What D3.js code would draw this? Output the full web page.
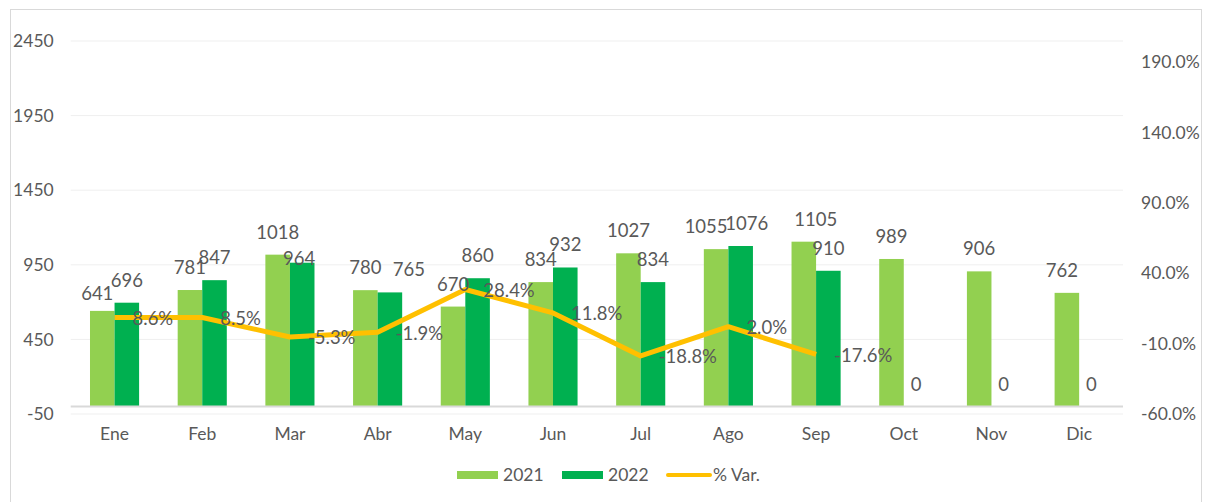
<!DOCTYPE html>
<html>
<head>
<meta charset="utf-8">
<script src="https://cdn.jsdelivr.net/npm/d3@7"></script>
<style>
  html, body { margin: 0; padding: 0; background: #fff; }
  svg { display: block; font-family: Lato, "Open Sans", sans-serif; }
</style>
</head>
<body>
<svg id="chart" width="1207" height="502"></svg>
<script>
// ---- data ----
const months = ["Ene","Feb","Mar","Abr","May","Jun","Jul","Ago","Sep","Oct","Nov","Dic"];
const values2021 = [641, 781, 1018, 780, 670, 834, 1027, 1055, 1105, 989, 906, 762];
const values2022 = [696, 847, 964, 765, 860, 932, 834, 1076, 910, 0, 0, 0];
const pctVar = [0.086, 0.085, -0.053, -0.019, 0.284, 0.118, -0.188, 0.020, -0.176];
const leftTicks = [-50, 450, 950, 1450, 1950, 2450];
const rightTicks = [-0.6, -0.1, 0.4, 0.9, 1.4, 1.9];
const seriesNames = ["2021", "2022", "% Var."];

// ---- layout / style ----
const colors = {"2021": "#92D050", "2022": "#00B050", line: "#FFC000"};
const textColor = "#595959";
const plot = {left: 70.7, right: 1123, top: 41, bottom: 414};
const axisFont = "17.5px";
const labelFont = "18.5px";

const locale = d3.formatLocale({decimal: ".", thousands: ",", grouping: [3], currency: ["$", ""], minus: "-"});
const fmtInt = locale.format("d");
const fmtPct = locale.format(".1%");

const svg = d3.select("#chart");

// chart border
svg.append("rect")
  .attr("x", 10.5).attr("y", 9.5)
  .attr("width", 1191).attr("height", 560)
  .attr("fill", "none").attr("stroke", "#d9d9d9").attr("stroke-width", 1);

const x0 = d3.scaleBand().domain(months).range([plot.left, plot.right]).padding(0);
const bw = x0.bandwidth();
const barW = bw * 0.28;
const x1 = d3.scaleBand().domain(["2021", "2022"]).range([bw / 2 - barW, bw / 2 + barW]).padding(0);

const y = d3.scaleLinear().domain([-50, 2450]).range([plot.bottom, plot.top]);
const yR = d3.scaleLinear().domain([-0.6, 1.9]).range([414, 62]);

// gridlines
svg.append("g").selectAll("line").data(leftTicks).join("line")
  .attr("x1", plot.left).attr("x2", plot.right)
  .attr("y1", d => y(d)).attr("y2", d => y(d))
  .attr("stroke", "#efefef").attr("stroke-width", 1);

// left axis
const gL = svg.append("g").attr("transform", `translate(${plot.left},0)`)
  .call(d3.axisLeft(y).tickValues(leftTicks).tickSize(0).tickPadding(17).tickFormat(fmtInt));
gL.select(".domain").remove();
gL.selectAll("text").attr("fill", textColor).style("font-size", axisFont).style("font-family", "Lato, sans-serif");

// right axis
const gR = svg.append("g").attr("transform", `translate(${plot.right},0)`)
  .call(d3.axisRight(yR).tickValues(rightTicks).tickSize(0).tickPadding(18).tickFormat(fmtPct));
gR.select(".domain").remove();
gR.selectAll("text").attr("fill", textColor).style("font-size", axisFont).style("font-family", "Lato, sans-serif");

// bars
const barData = [];
months.forEach((m, i) => {
  barData.push({m, s: "2021", v: values2021[i]});
  barData.push({m, s: "2022", v: values2022[i]});
});
svg.append("g").selectAll("rect").data(barData.filter(d => d.v > 0)).join("rect")
  .attr("x", d => x0(d.m) + x1(d.s))
  .attr("width", x1.bandwidth())
  .attr("y", d => y(d.v))
  .attr("height", d => y(0) - y(d.v))
  .attr("fill", d => colors[d.s]);

// zero axis line
svg.append("line")
  .attr("x1", plot.left).attr("x2", plot.right)
  .attr("y1", y(0)).attr("y2", y(0))
  .attr("stroke", "#d9d9d9").attr("stroke-width", 2);

// category axis
const gX = svg.append("g").attr("transform", `translate(0,${y(0)})`)
  .call(d3.axisBottom(x0).tickSize(0));
gX.select(".domain").remove();
gX.selectAll("text").attr("y", 27).attr("dy", "0.35em")
  .attr("fill", textColor).style("font-size", axisFont).style("font-family", "Lato, sans-serif");

// line
const lineData = pctVar.map((v, i) => ({m: months[i], v}));
const line = d3.line().x(d => x0(d.m) + bw / 2).y(d => yR(d.v));
svg.append("path").datum(lineData)
  .attr("d", line)
  .attr("fill", "none").attr("stroke", colors.line)
  .attr("stroke-width", 5).attr("stroke-linejoin", "round").attr("stroke-linecap", "butt");

// bar labels (a few nudged, as in the original, to avoid collisions)
const labelNudge = {
  "2021-Ene": [-5, 5], "2022-Mar": [-3, 18], "2022-Abr": [19, 0],
  "2021-Ago": [-10, 0], "2022-Ago": [6, 0], "2021-Sep": [12, 0], "2021-Dic": [-5, 0]
};
svg.append("g").selectAll("text").data(barData).join("text")
  .attr("x", d => x0(d.m) + x1(d.s) + x1.bandwidth() / 2 + ((labelNudge[d.s + "-" + d.m] || [0, 0])[0]))
  .attr("y", d => y(d.v) - 16 + ((labelNudge[d.s + "-" + d.m] || [0, 0])[1]))
  .attr("text-anchor", "middle")
  .attr("fill", textColor)
  .style("font-size", labelFont)
  .text(d => d.v);

// percent labels
svg.append("g").selectAll("text").data(lineData).join("text")
  .attr("x", d => x0(d.m) + bw / 2 + 18)
  .attr("y", d => yR(d.v) + 1)
  .attr("dy", "0.35em")
  .attr("text-anchor", "start")
  .attr("fill", textColor)
  .style("font-size", labelFont)
  .text(d => fmtPct(d.v));

// legend
const legend = svg.append("g");
const legItems = [
  {name: seriesNames[0], type: "rect", color: colors["2021"], x: 457},
  {name: seriesNames[1], type: "rect", color: colors["2022"], x: 562},
  {name: seriesNames[2], type: "line", color: colors.line, x: 666}
];
legItems.forEach(it => {
  if (it.type === "rect") {
    legend.append("rect").attr("x", it.x).attr("y", 471).attr("width", 41).attr("height", 8).attr("fill", it.color);
    legend.append("text").attr("x", it.x + 46).attr("y", 475).attr("dy", "0.35em")
      .attr("fill", textColor).style("font-size", axisFont).text(it.name);
  } else {
    legend.append("line").attr("x1", it.x + 2).attr("x2", it.x + 44).attr("y1", 475).attr("y2", 475)
      .attr("stroke", it.color).attr("stroke-width", 4).attr("stroke-linecap", "round");
    legend.append("text").attr("x", it.x + 47).attr("y", 475).attr("dy", "0.35em")
      .attr("fill", textColor).style("font-size", axisFont).text(it.name);
  }
});
</script>
</body>
</html>
